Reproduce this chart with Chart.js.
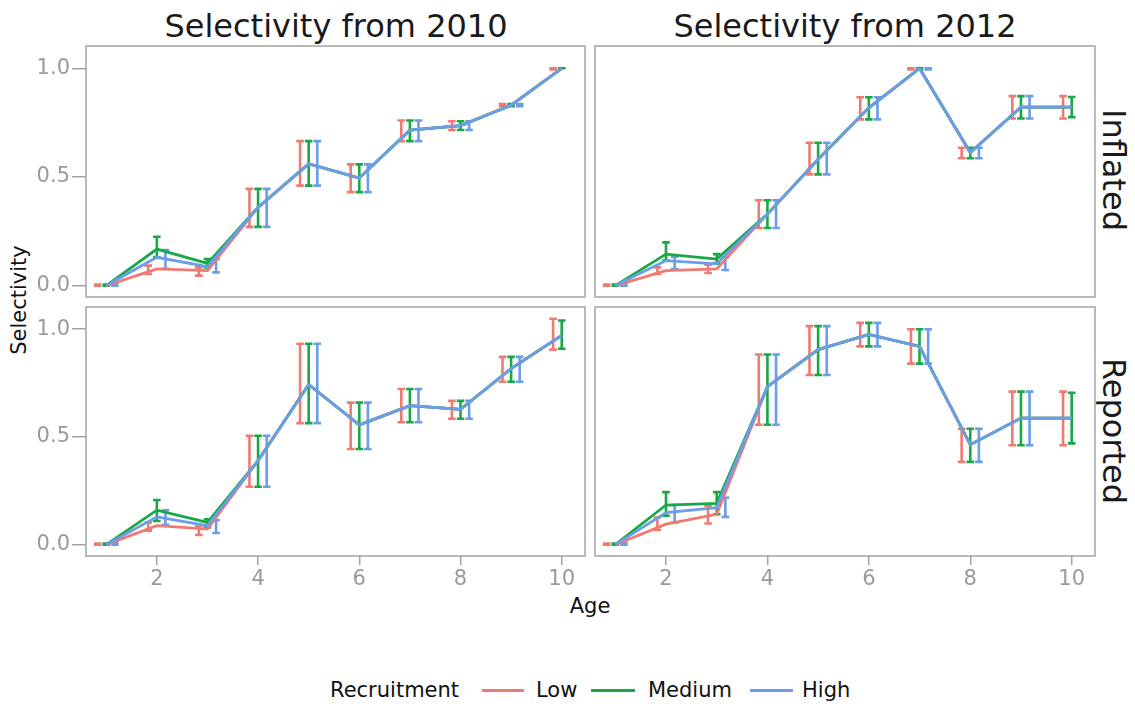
<!DOCTYPE html>
<html>
<head>
<meta charset="utf-8">
<script src="https://cdn.jsdelivr.net/npm/chart.js@4.4.1/dist/chart.umd.min.js"></script>
<style>
  body { margin: 0; background: #fff; font-family: "DejaVu Sans", sans-serif; }
  #wrap { position: relative; width: 1135px; height: 704px; overflow: hidden; }
  .box { position: absolute; }
  .title { position: absolute; top: 10px; width: 500px; text-align: center; font-size: 32px; line-height: 32px; color: #1a1a1a; }
  .strip { position: absolute; writing-mode: vertical-rl; font-size: 32px; color: #1a1a1a; transform: translate(-50%, -50%); }
  .axt { position: absolute; font-size: 21px; color: #111; white-space: nowrap; }
  .lg { position: absolute; top: 690px; font-size: 21px; color: #111; transform: translateY(-50%); white-space: nowrap; }
  .sw { position: absolute; top: 689px; height: 3px; }
</style>
</head>
<body>
<div id="wrap">
  <div class="title" style="left:86px">Selectivity from 2010</div>
  <div class="title" style="left:595px">Selectivity from 2012</div>
  <div class="strip" style="left:1114px; top:170px">Inflated</div>
  <div class="strip" style="left:1114px; top:431px">Reported</div>
  <div class="axt" style="left:19px; top:300px; transform: translate(-50%, -50%) rotate(-90deg)">Selectivity</div>
  <div class="axt" style="left:590px; top:606px; transform: translate(-50%, -50%)">Age</div>
  <div class="lg" style="left:330px">Recruitment</div>
  <div class="sw" style="left:482px; width:42px; background:#F07A72"></div>
  <div class="lg" style="left:536px">Low</div>
  <div class="sw" style="left:591px; width:44px; background:#19A846"></div>
  <div class="lg" style="left:648px">Medium</div>
  <div class="sw" style="left:750px; width:43px; background:#6A9DEA"></div>
  <div class="lg" style="left:802px">High</div>
  <div class="box" id="b0"><canvas id="c0"></canvas></div>
  <div class="box" id="b1"><canvas id="c1"></canvas></div>
  <div class="box" id="b2"><canvas id="c2"></canvas></div>
  <div class="box" id="b3"><canvas id="c3"></canvas></div>
</div>
<script>
// ages and tick labels
const ages = [1, 2, 3, 4, 5, 6, 7, 8, 9, 10];
const xTicks = [2, 4, 6, 8, 10];
const yTicks = [0, 0.5, 1.0];
const recruitment = ['Low', 'Medium', 'High'];

// Inflated, selectivity from 2010
const inf10Low  = [0, 0.077, 0.069, 0.36, 0.56, 0.495, 0.715, 0.736, 0.83, 1.0];
const inf10Med  = [0, 0.168, 0.102, 0.36, 0.56, 0.495, 0.715, 0.736, 0.83, 1.0];
const inf10High = [0, 0.130, 0.087, 0.36, 0.56, 0.495, 0.715, 0.736, 0.83, 1.0];
const inf10LowLo  = [0, 0.054, 0.046, 0.27, 0.46, 0.43, 0.665, 0.716, 0.825, 0.995];
const inf10LowHi  = [0.005, 0.092, 0.084, 0.445, 0.665, 0.558, 0.76, 0.756, 0.835, 1.0];
const inf10MedLo  = [0, 0.13, 0.084, 0.27, 0.46, 0.43, 0.665, 0.716, 0.825, 1.0];
const inf10MedHi  = [0.005, 0.225, 0.122, 0.445, 0.665, 0.558, 0.76, 0.756, 0.835, 1.0];
const inf10HighLo = [0, 0.077, 0.061, 0.27, 0.46, 0.43, 0.665, 0.716, 0.825, null];
const inf10HighHi = [0.01, 0.164, 0.122, 0.445, 0.665, 0.558, 0.76, 0.756, 0.835, null];

// Inflated, selectivity from 2012
const inf12Low  = [0, 0.069, 0.077, 0.329, 0.581, 0.818, 1.0, 0.612, 0.821, 0.821];
const inf12Med  = [0, 0.145, 0.122, 0.329, 0.581, 0.818, 1.0, 0.612, 0.821, 0.821];
const inf12High = [0, 0.115, 0.100, 0.329, 0.581, 0.818, 1.0, 0.612, 0.821, 0.821];
const inf12LowLo  = [0, 0.054, 0.058, 0.265, 0.512, 0.765, 0.995, 0.586, 0.769, 0.769];
const inf12LowHi  = [0.005, 0.084, 0.096, 0.393, 0.657, 0.867, 1.0, 0.634, 0.872, 0.872];
const inf12MedLo  = [0, 0.115, 0.102, 0.265, 0.512, 0.765, 0.995, 0.586, 0.769, 0.775];
const inf12MedHi  = [0.005, 0.199, 0.145, 0.393, 0.657, 0.867, 1.0, 0.634, 0.872, 0.868];
const inf12HighLo = [0, 0.076, 0.072, 0.265, 0.512, 0.765, 0.995, 0.586, 0.769, null];
const inf12HighHi = [0.01, 0.133, 0.13, 0.393, 0.657, 0.867, 1.0, 0.634, 0.872, null];

// Reported, selectivity from 2010
const rep10Low  = [0, 0.088, 0.072, 0.39, 0.743, 0.556, 0.645, 0.628, 0.817, 0.971];
const rep10Med  = [0, 0.160, 0.103, 0.39, 0.743, 0.556, 0.645, 0.628, 0.817, 0.971];
const rep10High = [0, 0.129, 0.088, 0.39, 0.743, 0.556, 0.645, 0.628, 0.817, 0.971];
const rep10LowLo  = [0, 0.065, 0.045, 0.269, 0.564, 0.444, 0.568, 0.584, 0.756, 0.905];
const rep10LowHi  = [0.005, 0.103, 0.088, 0.505, 0.932, 0.659, 0.722, 0.667, 0.871, 1.048];
const rep10MedLo  = [0, 0.11, 0.08, 0.269, 0.564, 0.444, 0.568, 0.584, 0.756, 0.909];
const rep10MedHi  = [0.005, 0.207, 0.118, 0.505, 0.932, 0.659, 0.722, 0.667, 0.871, 1.04];
const rep10HighLo = [0, 0.092, 0.054, 0.269, 0.564, 0.444, 0.568, 0.584, 0.756, null];
const rep10HighHi = [0.01, 0.16, 0.114, 0.505, 0.932, 0.659, 0.722, 0.667, 0.871, null];

// Reported, selectivity from 2012
const rep12Low  = [0, 0.095, 0.141, 0.733, 0.905, 0.975, 0.92, 0.464, 0.587, 0.587];
const rep12Med  = [0, 0.184, 0.192, 0.733, 0.905, 0.975, 0.92, 0.464, 0.587, 0.587];
const rep12High = [0, 0.149, 0.172, 0.733, 0.905, 0.975, 0.92, 0.464, 0.587, 0.587];
const rep12LowLo  = [0, 0.068, 0.098, 0.556, 0.787, 0.92, 0.84, 0.384, 0.461, 0.461];
const rep12LowHi  = [0.005, 0.126, 0.18, 0.882, 1.014, 1.029, 0.999, 0.538, 0.71, 0.71];
const rep12MedLo  = [0, 0.134, 0.141, 0.556, 0.787, 0.92, 0.84, 0.384, 0.461, 0.47];
const rep12MedHi  = [0.005, 0.244, 0.244, 0.882, 1.014, 1.029, 0.999, 0.538, 0.71, 0.705];
const rep12HighLo = [0, 0.103, 0.129, 0.556, 0.787, 0.92, 0.84, 0.384, 0.461, null];
const rep12HighHi = [0.01, 0.184, 0.218, 0.882, 1.014, 1.029, 0.999, 0.538, 0.71, null];

const colors = ['#F07A72', '#19A846', '#6A9DEA'];
const dodge = [-0.17, 0, 0.17];
const capHalf = 0.075;
const gray = '#a3a3a3';

// panel rectangles in page pixels: left, top, right, bottom
const panels = [
  { rect: [86, 46, 585, 297], showX: false, showY: true,
    means: [inf10Low, inf10Med, inf10High], lo: [inf10LowLo, inf10MedLo, inf10HighLo], hi: [inf10LowHi, inf10MedHi, inf10HighHi] },
  { rect: [595, 46, 1095, 297], showX: false, showY: false,
    means: [inf12Low, inf12Med, inf12High], lo: [inf12LowLo, inf12MedLo, inf12HighLo], hi: [inf12LowHi, inf12MedHi, inf12HighHi] },
  { rect: [86, 307, 585, 556], showX: true, showY: true,
    means: [rep10Low, rep10Med, rep10High], lo: [rep10LowLo, rep10MedLo, rep10HighLo], hi: [rep10LowHi, rep10MedHi, rep10HighHi] },
  { rect: [595, 307, 1095, 556], showX: true, showY: false,
    means: [rep12Low, rep12Med, rep12High], lo: [rep12LowLo, rep12MedLo, rep12HighLo], hi: [rep12LowHi, rep12MedHi, rep12HighHi] }
];

const Y_AXIS_W = 60, X_AXIS_H = 40, PAD = 4;

// error bar as one broken line: top cap, stem, bottom cap
function errorPoints(lo, hi, shift) {
  const pts = [];
  ages.forEach((a, i) => {
    if (lo[i] == null) return;
    const x = a + shift;
    pts.push({ x: x - capHalf, y: hi[i] }, { x: x + capHalf, y: hi[i] }, { x: x, y: null });
    pts.push({ x: x, y: hi[i] }, { x: x, y: lo[i] }, { x: x, y: null });
    pts.push({ x: x - capHalf, y: lo[i] }, { x: x + capHalf, y: lo[i] }, { x: x, y: null });
  });
  return pts;
}

const panelBox = {
  id: 'panelBox',
  beforeDatasetsDraw(chart) {
    const a = chart.chartArea, ctx = chart.ctx;
    ctx.save();
    ctx.strokeStyle = gray;
    ctx.lineWidth = 1.5;
    ctx.strokeRect(a.left, a.top, a.right - a.left, a.bottom - a.top);
    ctx.restore();
  }
};

panels.forEach((p, k) => {
  const [L, T, R, B] = p.rect;
  const box = document.getElementById('b' + k);
  box.style.left = (L - Y_AXIS_W) + 'px';
  box.style.top = (T - PAD) + 'px';
  box.style.width = (R - L + Y_AXIS_W + PAD) + 'px';
  box.style.height = (B - T + PAD + X_AXIS_H) + 'px';

  const datasets = [];
  // lines on top: blue, green, red; then error bars below
  [2, 1, 0].forEach(s => {
    datasets.push({
      label: recruitment[s],
      data: ages.map((a, i) => ({ x: a, y: p.means[s][i] })),
      borderColor: colors[s], borderWidth: 2.8, pointRadius: 0, tension: 0
    });
  });
  [2, 1, 0].forEach(s => {
    datasets.push({
      label: recruitment[s] + ' error',
      data: errorPoints(p.lo[s], p.hi[s], dodge[s]),
      borderColor: colors[s], borderWidth: 2.6, pointRadius: 0, spanGaps: false,
      borderCapStyle: 'butt'
    });
  });

  new Chart(document.getElementById('c' + k), {
    type: 'line',
    data: { datasets },
    plugins: [panelBox],
    options: {
      responsive: true,
      maintainAspectRatio: false,
      animation: false,
      layout: { padding: { top: PAD, right: PAD, left: 0, bottom: 0 } },
      plugins: { legend: { display: false }, tooltip: { enabled: false } },
      scales: {
        x: {
          type: 'linear', min: 0.6, max: 10.46,
          afterBuildTicks: s => { s.ticks = xTicks.map(v => ({ value: v })); },
          afterFit: s => { s.height = X_AXIS_H; s.paddingLeft = 0; s.paddingRight = 0; },
          border: { display: false },
          grid: { display: p.showX, drawOnChartArea: false, tickLength: 9, tickColor: gray, lineWidth: 1.5 },
          ticks: { display: p.showX, color: '#9a9a9a', font: { family: 'DejaVu Sans', size: 21 }, padding: 2, maxRotation: 0 }
        },
        y: {
          type: 'linear', min: -0.0525, max: 1.1025,
          afterBuildTicks: s => { s.ticks = yTicks.map(v => ({ value: v })); },
          afterFit: s => { s.width = Y_AXIS_W; s.paddingTop = 0; s.paddingBottom = 0; },
          border: { display: false },
          grid: { display: p.showY, drawOnChartArea: false, tickLength: 14, tickColor: gray, lineWidth: 1.5 },
          ticks: { display: p.showY, color: '#9a9a9a', font: { family: 'DejaVu Sans', size: 21 }, padding: 2,
                   callback: v => v.toFixed(1) }
        }
      }
    }
  });
});
</script>
</body>
</html>
